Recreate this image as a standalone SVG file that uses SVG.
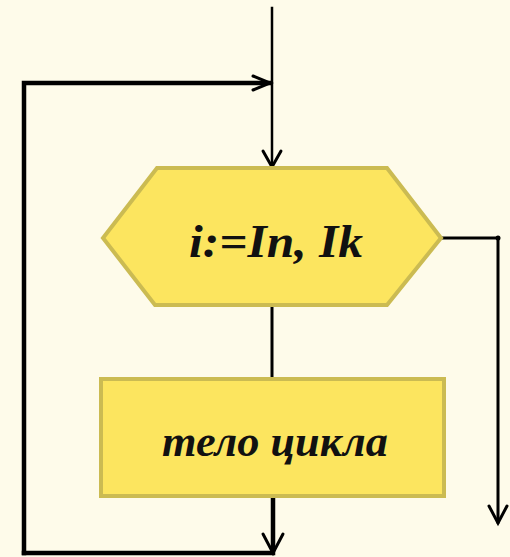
<svg xmlns="http://www.w3.org/2000/svg" width="510" height="557" viewBox="0 0 510 557">
<style>
.bg{fill:#fefbea}
.blk{fill:#fce55f;stroke:#cbbb52;stroke-width:4}
.ln{fill:none;stroke:#000;stroke-linecap:square}
.thin{stroke-width:2.5}
.mid{stroke-width:3}
.thick{stroke-width:4.5}
.ah{fill:none;stroke:#000;stroke-width:3;stroke-linecap:round;stroke-linejoin:miter}
.lbl{font-family:"Liberation Serif","DejaVu Serif",serif;font-style:italic;font-weight:bold;fill:#111;text-anchor:middle}
</style>
<rect class="bg" x="0" y="0" width="510" height="557"/>
<g id="connectors">
<line class="ln thin" x1="272" y1="8" x2="272" y2="166"/>
<polyline class="ah" points="263,151 272,167 281,151"/>
<polyline class="ln thick" points="24,553 24,83 270,83"/>
<polyline class="ah" points="253,76 270,83 253,90"/>
<line class="ln mid" x1="272" y1="305" x2="272" y2="378"/>
<polyline class="ln thick" points="273,497 273,553 24,553"/>
<polyline class="ah" points="263,534 273,553 283,534"/>
<polyline class="ln mid" points="442,238 498,238 498,522"/>
<circle cx="498" cy="238" r="2.5" fill="#000"/>
<polyline class="ah" points="489,506 498,523 507,506"/>
</g>
<g id="loop">
<polygon class="blk" points="157,168 387,168 441,238 387,305 155,305 103,238"/>
<text class="lbl" x="276" y="257" font-size="46" textLength="174" lengthAdjust="spacingAndGlyphs">i:=In, Ik</text>
</g>
<g id="body">
<rect class="blk" x="101" y="379" width="343" height="117"/>
<text class="lbl" x="275" y="456" font-size="44" textLength="226" lengthAdjust="spacingAndGlyphs">тело цикла</text>
</g>
</svg>
